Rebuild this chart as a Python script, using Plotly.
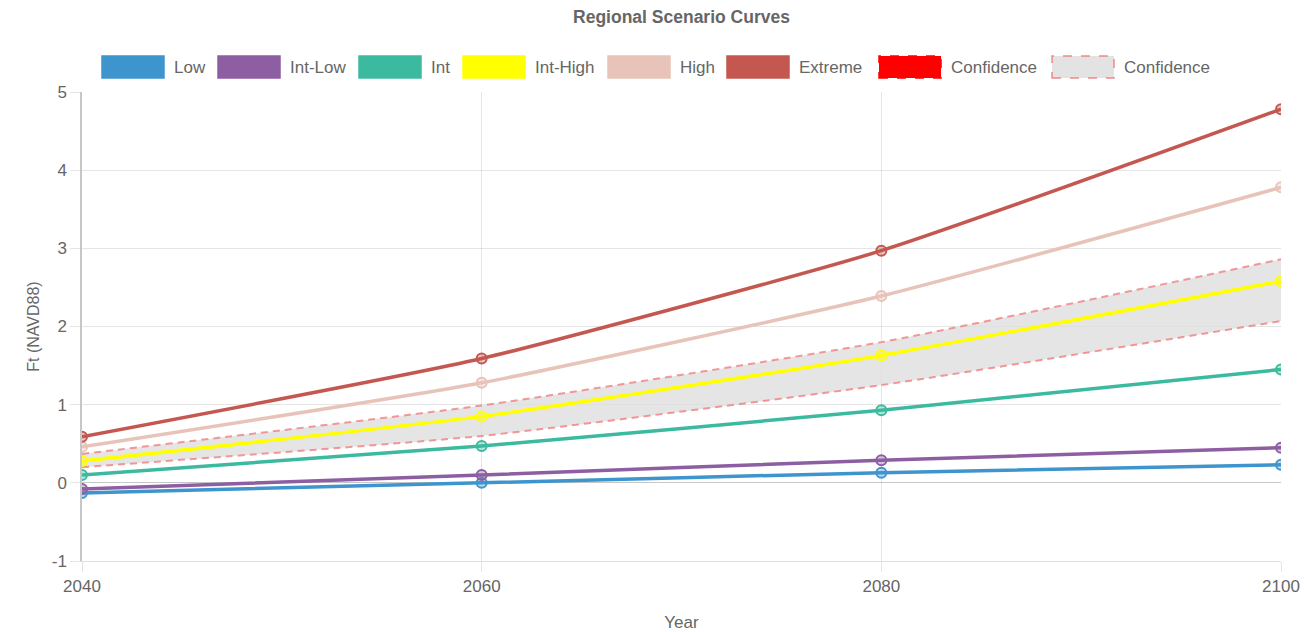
import plotly.graph_objects as go

# Sea-level rise scenario curves (ft, NAVD88)
years = [2040, 2060, 2080, 2100]
low = [-0.13, 0.00, 0.13, 0.23]
int_low = [-0.08, 0.10, 0.29, 0.45]
intermediate = [0.10, 0.47, 0.93, 1.45]
int_high = [0.28, 0.85, 1.63, 2.58]
high = [0.46, 1.28, 2.39, 3.78]
extreme = [0.59, 1.59, 2.97, 4.78]
conf_upper = [0.37, 0.99, 1.80, 2.86]
conf_lower = [0.20, 0.60, 1.25, 2.07]

series_names = ["Low", "Int-Low", "Int", "Int-High", "High", "Extreme"]
series_values = [low, int_low, intermediate, int_high, high, extreme]
series_colors = ["#3e95cd", "#8e5ea2", "#3cba9f", "#ffff00", "#e8c3b9", "#c45850"]

y_ticks = [-1, 0, 1, 2, 3, 4, 5]
x_ticks = [2040, 2060, 2080, 2100]

TEXT = "#666666"
FONT = "Liberation Sans, Arial, Helvetica, sans-serif"
BAND_FILL = "rgba(222,222,222,0.8)"
BAND_EDGE = "rgba(240,120,120,0.75)"


def rgba(hex_color, a):
    h = hex_color.lstrip("#")
    r, g, b = int(h[0:2], 16), int(h[2:4], 16), int(h[4:6], 16)
    return f"rgba({r},{g},{b},{a})"


fig = go.Figure()

# confidence band (drawn first so the curves sit on top)
fig.add_trace(go.Scatter(
    x=years, y=conf_lower, mode="lines", name="Confidence",
    line=dict(color=BAND_EDGE, width=2, dash="7px,5px", shape="spline", smoothing=0.5),
    showlegend=False, hoverinfo="x+y+name",
))
fig.add_trace(go.Scatter(
    x=years, y=conf_upper, mode="lines", name="Confidence",
    line=dict(color=BAND_EDGE, width=2, dash="7px,5px", shape="spline", smoothing=0.5),
    fill="tonexty", fillcolor=BAND_FILL,
    showlegend=False, hoverinfo="x+y+name",
))

for name, vals, col in zip(series_names, series_values, series_colors):
    fig.add_trace(go.Scatter(
        x=years, y=vals, mode="lines+markers", name=name,
        line=dict(color=col, width=3.5, shape="spline", smoothing=0.5),
        marker=dict(size=10, color=rgba(col, 0.35), line=dict(color=col, width=2)),
        showlegend=False,
    ))

# plot area in pixels
W, H = 1306, 632
ML, MR, MT, MB = 82, 25, 92, 71
PW, PH = W - ML - MR, H - MT - MB


def px_x(p):
    return (p - ML) / PW


def px_y(p):
    return (H - MB - p) / PH


# custom legend: wide swatches like the original widget
legend_items = [
    ("Low", "#3e95cd", "#3e95cd", None),
    ("Int-Low", "#8e5ea2", "#8e5ea2", None),
    ("Int", "#3cba9f", "#3cba9f", None),
    ("Int-High", "#ffff00", "#ffff00", None),
    ("High", "#e8c3b9", "#e8c3b9", None),
    ("Extreme", "#c45850", "#c45850", None),
    ("Confidence", "#ff0000", "#ff0000", "dash"),
    ("Confidence", "#e3e3e3", "rgba(240,110,110,0.8)", "dash"),
]
legend_x = [102, 218, 359, 463, 608, 727, 879, 1052]
BOX_W, BOX_TOP, BOX_BOT, TEXT_GAP = 62, 56, 78, 8

shapes = []
annotations = []
for (label, fill, edge, dash), x0 in zip(legend_items, legend_x):
    shapes.append(dict(
        type="rect", xref="paper", yref="paper",
        x0=px_x(x0), x1=px_x(x0 + BOX_W), y0=px_y(BOX_BOT), y1=px_y(BOX_TOP),
        fillcolor=fill, line=dict(color=edge, width=1.5, dash=dash),
        layer="above",
    ))
    annotations.append(dict(
        xref="paper", yref="paper", x=px_x(x0 + BOX_W + TEXT_GAP), y=px_y((BOX_TOP + BOX_BOT) / 2),
        xanchor="left", yanchor="middle", text=label, showarrow=False,
        font=dict(family=FONT, size=17, color=TEXT),
    ))

fig.update_layout(
    width=W, height=H,
    margin=dict(l=ML, r=MR, t=MT, b=MB, autoexpand=False),
    paper_bgcolor="white", plot_bgcolor="white",
    font=dict(family=FONT, size=17, color=TEXT),
    title=dict(
        text="<b>Regional Scenario Curves</b>", x=0.5, xref="paper", xanchor="center",
        y=1 - 17 / H, yref="container", yanchor="middle",
        font=dict(family=FONT, size=17.5, color=TEXT),
    ),
    shapes=shapes,
    annotations=annotations,
    showlegend=False,
    hovermode="closest",
)

fig.update_xaxes(
    range=[2040, 2100], tickvals=x_ticks, ticktext=[str(v) for v in x_ticks],
    automargin=False,
    showgrid=True, gridcolor="rgba(0,0,0,0.1)", gridwidth=1,
    zeroline=False,
    showline=True, linecolor="rgba(0,0,0,0.12)", linewidth=1, mirror=False,
    ticks="outside", ticklen=10, tickcolor="rgba(0,0,0,0.1)",
    tickfont=dict(family=FONT, size=17, color=TEXT),
    title=dict(text="Year", font=dict(family=FONT, size=17, color=TEXT), standoff=22),
)
fig.update_yaxes(
    range=[-1, 5], tickvals=y_ticks, ticktext=[str(v) for v in y_ticks],
    automargin=False,
    showgrid=True, gridcolor="rgba(0,0,0,0.1)", gridwidth=1,
    zeroline=True, zerolinecolor="rgba(0,0,0,0.22)", zerolinewidth=1,
    showline=True, linecolor="rgba(0,0,0,0.22)", linewidth=1.5,
    ticks="outside", ticklen=10, tickcolor="rgba(0,0,0,0.1)",
    tickfont=dict(family=FONT, size=17, color=TEXT),
    title=dict(text="Ft (NAVD88)", font=dict(family=FONT, size=16, color=TEXT), standoff=8),
)

fig.write_html("out.html")
